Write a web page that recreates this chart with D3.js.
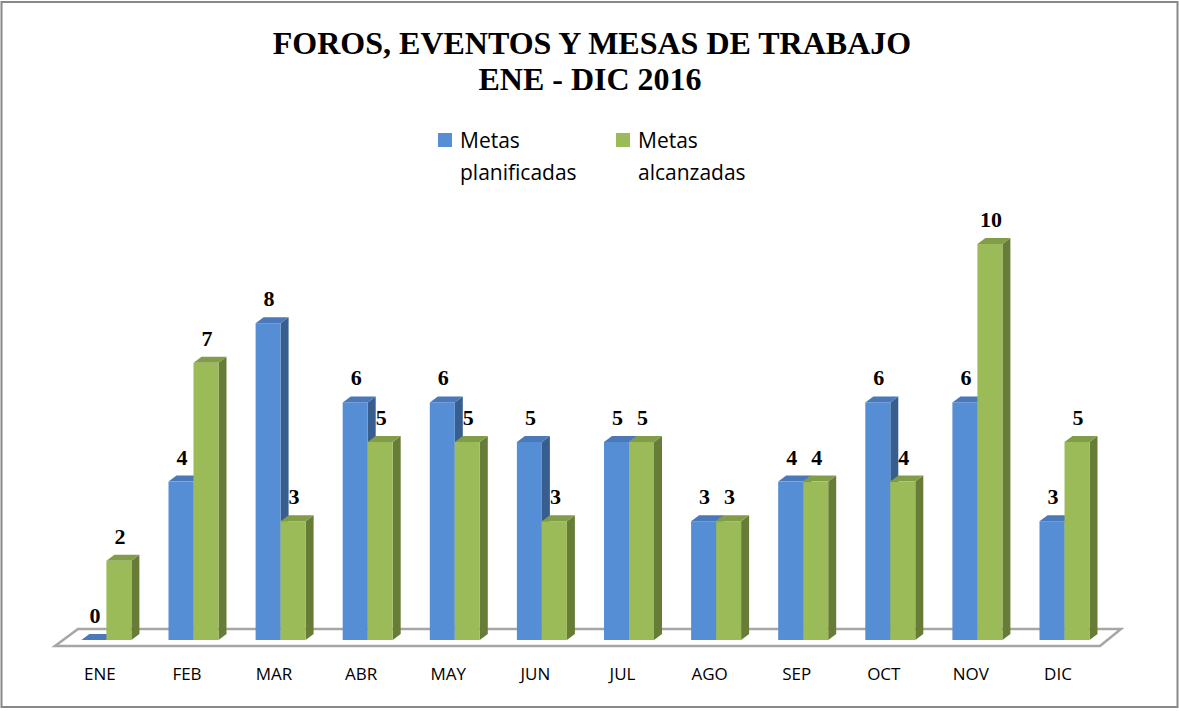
<!DOCTYPE html>
<html>
<head>
<meta charset="utf-8">
<script src="https://cdn.jsdelivr.net/npm/d3@7"></script>
<style>
  body { margin: 0; background: #fff; }
  svg { display: block; }
</style>
</head>
<body>
<div id="chart"></div>
<script>
var months = ["ENE", "FEB", "MAR", "ABR", "MAY", "JUN", "JUL", "AGO", "SEP", "OCT", "NOV", "DIC"];
var planificadas = [0, 4, 8, 6, 6, 5, 5, 3, 4, 6, 6, 3];
var alcanzadas = [2, 7, 3, 5, 5, 3, 5, 3, 4, 4, 10, 5];
var seriesNames = ["Metas planificadas", "Metas alcanzadas"];

var width = 1179, height = 711;
var base = 640;          // front bottom of the bars
var dx = 8, dy = 6;      // 3d depth of a bar
var barW = 25;

var colors = [
    { front: "#558ED5", top: "#4A78B8", side: "#385E90" },
    { front: "#9BBB59", top: "#819D47", side: "#677D37" }
];

var svg = d3.select("#chart").append("svg")
    .attr("width", width)
    .attr("height", height);

// outer frame
svg.append("rect")
    .attr("x", 1.5).attr("y", 2)
    .attr("width", 1176).attr("height", 705)
    .attr("fill", "#fff")
    .attr("stroke", "#888")
    .attr("stroke-width", 2);

// title
var serif = "'Liberation Serif', 'Times New Roman', serif";
svg.append("text")
    .attr("x", 592).attr("y", 54)
    .attr("text-anchor", "middle")
    .attr("font-family", serif)
    .attr("font-weight", "bold")
    .attr("font-size", 32)
    .text("FOROS, EVENTOS Y MESAS DE TRABAJO");
svg.append("text")
    .attr("x", 590).attr("y", 90)
    .attr("text-anchor", "middle")
    .attr("font-family", serif)
    .attr("font-weight", "bold")
    .attr("font-size", 32)
    .text("ENE - DIC 2016");

// legend
var legend = svg.append("g");
var legX = [438, 616];
seriesNames.forEach(function(name, i) {
    legend.append("rect")
        .attr("x", legX[i]).attr("y", 133)
        .attr("width", 14).attr("height", 14)
        .attr("fill", colors[i].front);
    var words = name.split(" ");
    words.forEach(function(w, j) {
        legend.append("text")
            .attr("x", legX[i] + 22).attr("y", 148 + j * 32)
            .attr("font-family", "'Open Sans', sans-serif")
            .attr("font-size", 21)
            .attr("fill", "#000")
            .text(w);
    });
});

// scales
var x = d3.scaleBand()
    .domain(months)
    .range([62.85, 62.85 + 87.1 * 12])
    .padding(0);

var y = d3.scaleLinear()
    .domain([0, 10])
    .range([base, base - 396]);

// floor
var floor = [[55, 646], [1100, 646], [1121, 629], [78, 629]];
svg.append("path")
    .attr("d", d3.line()(floor) + "Z")
    .attr("fill", "#fff")
    .attr("stroke", "#A6A6A6")
    .attr("stroke-width", 2.5)
    .attr("stroke-linejoin", "miter");

// category labels
svg.append("g").selectAll("text")
    .data(months)
    .enter().append("text")
    .attr("x", function(d) { return x(d) + x.bandwidth() / 2 - 6.5; })
    .attr("y", 680)
    .attr("text-anchor", "middle")
    .attr("font-family", "'Open Sans', sans-serif")
    .attr("font-size", 17)
    .text(function(d) { return d; });

// bars
var rows = [];
months.forEach(function(m, i) {
    rows.push({ month: m, s: 0, v: planificadas[i] });
    rows.push({ month: m, s: 1, v: alcanzadas[i] });
});

var bars = svg.append("g").selectAll("g")
    .data(rows)
    .enter().append("g");

function x0(d) { return x(d.month) + x.bandwidth() / 2 - barW + d.s * barW; }

bars.append("path") // side
    .attr("d", function(d) {
        var a = x0(d) + barW, t = y(d.v);
        return d3.line()([[a, t], [a + dx, t - dy], [a + dx, base - dy], [a, base]]) + "Z";
    })
    .attr("fill", function(d) { return colors[d.s].side; });

bars.append("path") // top
    .attr("d", function(d) {
        var a = x0(d), t = y(d.v);
        return d3.line()([[a, t], [a + dx, t - dy], [a + barW + dx, t - dy], [a + barW, t]]) + "Z";
    })
    .attr("fill", function(d) { return colors[d.s].top; });

bars.append("rect") // front
    .attr("x", x0)
    .attr("y", function(d) { return y(d.v); })
    .attr("width", barW)
    .attr("height", function(d) { return base - y(d.v); })
    .attr("fill", function(d) { return colors[d.s].front; });

// value labels
svg.append("g").selectAll("text")
    .data(rows)
    .enter().append("text")
    .attr("x", function(d) { return x0(d) + barW / 2 + 1; })
    .attr("y", function(d) { return y(d.v) - 17; })
    .attr("text-anchor", "middle")
    .attr("font-family", serif)
    .attr("font-weight", "bold")
    .attr("font-size", 22)
    .text(function(d) { return d.v; });
</script>
</body>
</html>
